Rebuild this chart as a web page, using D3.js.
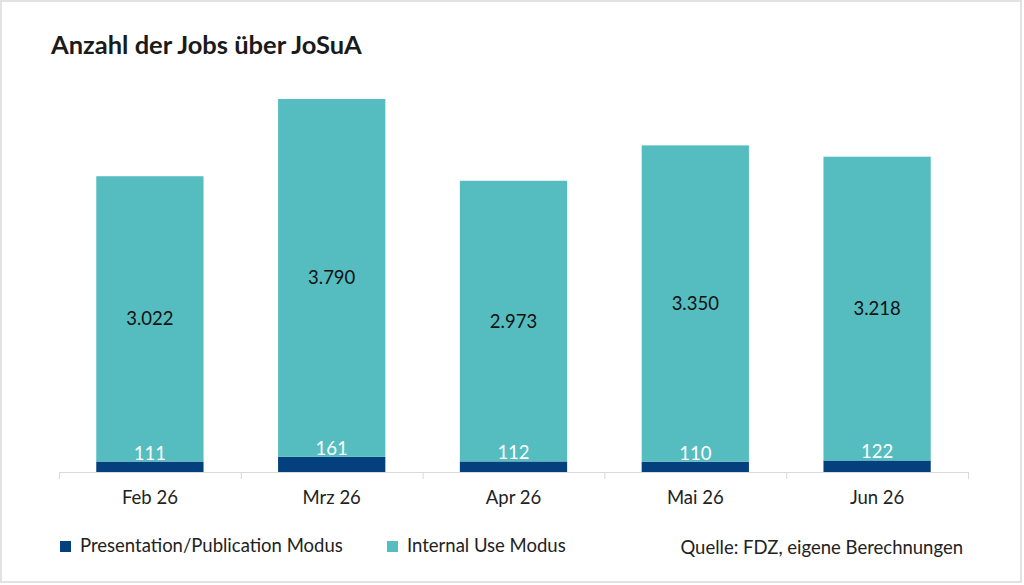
<!DOCTYPE html>
<html>
<head>
<meta charset="utf-8">
<script src="https://cdn.jsdelivr.net/npm/d3@7"></script>
<style>
  body { margin: 0; background: #fff; }
  svg text { font-family: "Source Sans Pro", Lato, "Noto Sans", sans-serif; }
</style>
</head>
<body>
<script>
// Daten
const months = ['Feb 26', 'Mrz 26', 'Apr 26', 'Mai 26', 'Jun 26'];
const presentation = [111, 161, 112, 110, 122];
const internalUse = [3022, 3790, 2973, 3350, 3218];
const seriesNames = ['Presentation/Publication Modus', 'Internal Use Modus'];
const colors = ['#043f7e', '#55bdbf'];

const width = 1024, height = 585;
const fmt = d3.formatLocale({ decimal: ',', thousands: '.', grouping: [3], currency: ['', '€'] }).format(',');

const svg = d3.select('body').append('svg')
    .attr('width', width)
    .attr('height', height);

// Rahmen
svg.append('rect')
    .attr('x', 1).attr('y', 1)
    .attr('width', 1020).attr('height', 581)
    .attr('fill', 'none')
    .attr('stroke', '#e2e2e2')
    .attr('stroke-width', 2);

// Titel
svg.append('text')
    .attr('x', 51).attr('y', 54)
    .attr('font-size', 25.5)
    .attr('font-weight', 'bold')
    .attr('fill', '#1a1a1a')
    .text('Anzahl der Jobs über JoSuA');

const x = d3.scaleBand()
    .domain(months)
    .range([59, 968])
    .paddingInner(0.41)
    .paddingOuter(0.205);

const y = d3.scaleLinear()
    .domain([0, 4000])
    .range([472, 94.4]);

const data = months.map((m, i) => ({ month: m, p: presentation[i], u: internalUse[i] }));

// Achse
const step = x.step();
svg.append('line')
    .attr('x1', 59).attr('x2', 968)
    .attr('y1', 472.5).attr('y2', 472.5)
    .attr('stroke', '#d9d9d9');

svg.selectAll('.tick-line')
    .data(d3.range(months.length + 1))
    .enter().append('line')
    .attr('x1', i => 59 + i * step + 0.5)
    .attr('x2', i => 59 + i * step + 0.5)
    .attr('y1', 472).attr('y2', 479)
    .attr('stroke', '#d9d9d9');

svg.selectAll('.month-label')
    .data(months)
    .enter().append('text')
    .attr('x', d => x(d) + x.bandwidth() / 2)
    .attr('y', 504)
    .attr('text-anchor', 'middle')
    .attr('font-size', 18.5)
    .attr('fill', '#222')
    .text(d => d);

// Balken
const bars = svg.append('g');
bars.selectAll('.bar-p')
    .data(data)
    .enter().append('rect')
    .attr('x', d => x(d.month))
    .attr('width', x.bandwidth())
    .attr('y', d => y(d.p))
    .attr('height', d => y(0) - y(d.p))
    .attr('fill', colors[0]);

bars.selectAll('.bar-u')
    .data(data)
    .enter().append('rect')
    .attr('x', d => x(d.month))
    .attr('width', x.bandwidth())
    .attr('y', d => y(d.p + d.u))
    .attr('height', d => y(d.p) - y(d.p + d.u))
    .attr('fill', colors[1]);

// Beschriftungen
svg.selectAll('.label-u')
    .data(data)
    .enter().append('text')
    .attr('x', d => x(d.month) + x.bandwidth() / 2)
    .attr('y', d => (y(d.p) + y(d.p + d.u)) / 2)
    .attr('dy', '0.35em')
    .attr('text-anchor', 'middle')
    .attr('font-size', 18.5)
    .attr('fill', '#111')
    .text(d => fmt(d.u));

svg.selectAll('.label-p')
    .data(data)
    .enter().append('text')
    .attr('x', d => x(d.month) + x.bandwidth() / 2)
    .attr('y', d => y(d.p) - 2)
    .attr('text-anchor', 'middle')
    .attr('font-size', 18.5)
    .attr('fill', '#fff')
    .text(d => fmt(d.p));

// Legende
const legendX = [60, 387];
const legend = svg.selectAll('.legend')
    .data(seriesNames)
    .enter().append('g')
    .attr('transform', (d, i) => `translate(${legendX[i]}, 546)`);

legend.append('rect')
    .attr('x', 0).attr('y', -5)
    .attr('width', 11).attr('height', 11)
    .attr('fill', (d, i) => colors[i]);

legend.append('text')
    .attr('x', 20).attr('y', 0)
    .attr('dy', '0.35em')
    .attr('font-size', 18.5)
    .attr('fill', '#222')
    .text(d => d);

// Quelle
svg.append('text')
    .attr('x', 963).attr('y', 548)
    .attr('dy', '0.35em')
    .attr('text-anchor', 'end')
    .attr('font-size', 18.5)
    .attr('fill', '#222')
    .text('Quelle: FDZ, eigene Berechnungen');
</script>
</body>
</html>
